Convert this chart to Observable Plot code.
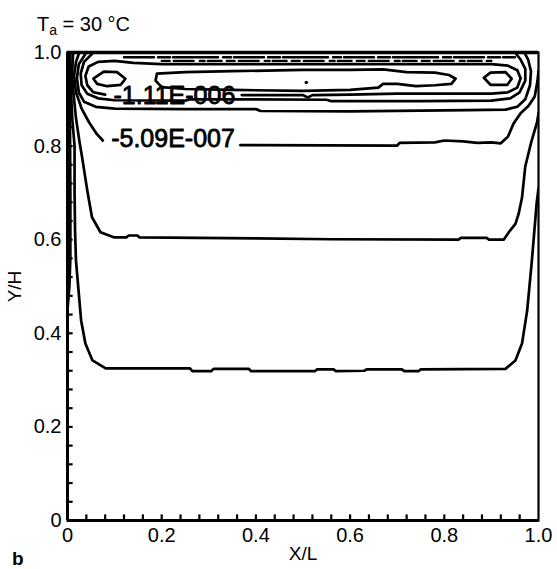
<!DOCTYPE html>
<html><head><meta charset="utf-8">
<script src="https://cdn.jsdelivr.net/npm/d3@7"></script>
<script src="https://cdn.jsdelivr.net/npm/@observablehq/plot@0.6"></script>
<style>
body{margin:0;background:#fff;}
#wrap{position:relative;width:557px;height:569px;font-family:"Liberation Sans",Arial,sans-serif;color:#000;}
#wrap svg{position:absolute;left:0;top:0;}
#title{position:absolute;left:37px;top:14px;font-size:20px;line-height:1;white-space:nowrap;}
#title sub{font-size:14px;vertical-align:-4px;line-height:0;}
#panel{position:absolute;left:12px;top:549px;font-size:19px;font-weight:bold;line-height:1;}
</style></head><body>
<div id="wrap"><div id="title">T<sub>a</sub> = 30 °C</div><div id="panel">b</div></div>
<script>
// Axis ticks
const majorTicks = [0, 0.2, 0.4, 0.6, 0.8, 1.0];
const minorTicks = [0.04,0.08,0.12,0.16,0.2,0.24,0.28,0.32,0.36,0.4,0.44,0.48,0.52,0.56,0.6,0.64,0.68,0.72,0.76,0.8,0.84,0.88,0.92,0.96];

// Contour lines, [X/L, Y/H]
const contour0 = [[0.004,1.0],[0.005,0.9],[0.006,0.7],[0.006,0.56],[0.004,0.5],[0.0,0.45]];
const contour1 = [[0.006,1.0],[0.007,0.93],[0.01,0.86],[0.015,0.8],[0.015,0.7],[0.016,0.62],[0.018,0.556],[0.024,0.485],[0.029,0.427],[0.038,0.378],[0.053,0.342],[0.081,0.325],[0.26,0.325],[0.265,0.319],[0.305,0.319],[0.31,0.324],[0.385,0.324],[0.39,0.319],[0.525,0.319],[0.53,0.323],[0.565,0.323],[0.57,0.319],[0.63,0.32],[0.635,0.323],[0.71,0.323],[0.715,0.319],[0.745,0.319],[0.75,0.323],[0.93,0.324],[0.951,0.342],[0.965,0.378],[0.976,0.449],[0.986,0.556],[0.996,0.677],[1.0,0.71]];
const contour2 = [[0.012,1.0],[0.01,0.96],[0.012,0.92],[0.018,0.86],[0.025,0.812],[0.031,0.776],[0.042,0.705],[0.052,0.648],[0.07,0.616],[0.098,0.605],[0.125,0.605],[0.13,0.609],[0.148,0.609],[0.153,0.605],[0.4,0.603],[0.56,0.601],[0.83,0.6],[0.835,0.604],[0.89,0.604],[0.895,0.6],[0.926,0.6],[0.94,0.62],[0.951,0.634],[0.958,0.656],[0.965,0.69],[0.972,0.757],[0.985,0.81],[0.997,0.851],[1.0,0.87]];
const contour3a = [[0.025,1.0],[0.018,0.98],[0.014,0.95],[0.018,0.915],[0.03,0.88],[0.045,0.852],[0.062,0.826],[0.075,0.812]];
const contour3b = [[0.367,0.802],[0.70,0.801],[0.705,0.807],[0.78,0.808],[0.8,0.812],[0.84,0.81],[0.87,0.807],[0.9,0.808],[0.92,0.806],[0.935,0.82],[0.947,0.848],[0.962,0.87],[0.979,0.886],[0.992,0.906],[0.998,0.94],[1.0,0.96]];
const contour6 = [[0.04,1.0],[0.024,0.975],[0.02,0.945],[0.024,0.915],[0.035,0.895],[0.06,0.884],[0.1,0.88],[0.25,0.879],[0.4,0.879],[0.41,0.875],[0.6,0.874],[0.75,0.876],[0.85,0.877],[0.93,0.878],[0.955,0.884],[0.972,0.9],[0.982,0.93],[0.984,0.96],[0.978,0.985],[0.97,1.0]];
const contour5 = [[0.055,1.0],[0.035,0.98],[0.028,0.955],[0.03,0.93],[0.042,0.912],[0.065,0.902],[0.1,0.898],[0.25,0.897],[0.26,0.9],[0.4,0.9],[0.55,0.899],[0.56,0.896],[0.75,0.896],[0.9,0.897],[0.94,0.902],[0.96,0.915],[0.972,0.94],[0.972,0.965],[0.962,0.985],[0.95,1.0]];
const contour4a = [[0.08,0.91],[0.055,0.915],[0.042,0.93],[0.038,0.95],[0.045,0.97],[0.065,0.98],[0.1,0.982],[0.14,0.978],[0.2,0.975],[0.4,0.975],[0.6,0.975],[0.8,0.975],[0.9,0.975],[0.935,0.972],[0.955,0.962],[0.962,0.945],[0.955,0.925],[0.935,0.915],[0.9,0.912],[0.8,0.912],[0.7,0.912],[0.6,0.91],[0.52,0.909],[0.51,0.904],[0.5,0.909],[0.37,0.909]];
const loopM = [[0.19,0.955],[0.25,0.958],[0.35,0.96],[0.5,0.963],[0.6,0.963],[0.67,0.964],[0.72,0.958],[0.78,0.957],[0.81,0.952],[0.824,0.944],[0.815,0.933],[0.78,0.93],[0.74,0.928],[0.7,0.933],[0.67,0.933],[0.66,0.925],[0.6,0.92],[0.5,0.918],[0.35,0.92],[0.25,0.922],[0.2,0.926],[0.187,0.94],[0.19,0.955]];
const eyeLeft = [[0.055,0.944],[0.077,0.959],[0.105,0.958],[0.123,0.944],[0.113,0.931],[0.084,0.928],[0.063,0.933],[0.055,0.944]];
const eyeRight = [[0.884,0.946],[0.898,0.957],[0.93,0.958],[0.943,0.944],[0.934,0.931],[0.898,0.931],[0.884,0.946]];
const lidRow1 = [[0.12,0.99],[0.95,0.99]];
const lidRow2 = [[0.2,0.982],[0.9,0.982]];
const centerDot = [[0.507,0.936]];

// Contour labels
const labelText = ["-1.11E-006", "-5.09E-007"];
const labelX = [0.227, 0.224];
const labelY = [0.906, 0.815];

const named = {contour0, contour1, contour2, contour3a, contour3b, contour6, contour5, contour4a, loopM, eyeLeft, eyeRight};
const rows = [];
for (const [id, pts] of Object.entries(named)) for (const [x, y] of pts) rows.push({id, x, y});
const toRows = (pts) => pts.map(([x, y]) => ({x, y}));
const labels = labelText.map((t, i) => ({text: t, x: labelX[i], y: labelY[i]}));
const fmt = d => d === 0 ? "0" : d.toFixed(1);

const chart = Plot.plot({
  width: 557, height: 569,
  marginLeft: 67, marginRight: 19, marginTop: 52, marginBottom: 49,
  x: {domain: [0, 1], label: null},
  y: {domain: [0, 1], label: null},
  style: {fontFamily: "'Liberation Sans', Arial, sans-serif", fontSize: "20px", color: "black", background: "white"},
  marks: [
    Plot.line(rows, {x: "x", y: "y", z: "id", stroke: "black", strokeWidth: 2.7, strokeLinejoin: "round", strokeLinecap: "round", clip: true}),
    Plot.line(toRows(lidRow1), {x: "x", y: "y", stroke: "black", strokeWidth: 2.5, strokeDasharray: "30,4,12,3,45,5,8,3", clip: true}),
    Plot.line(toRows(lidRow2), {x: "x", y: "y", stroke: "black", strokeWidth: 2.3, strokeDasharray: "8,4,20,6,5,3,14,5", clip: true}),
    Plot.dot(toRows(centerDot), {x: "x", y: "y", r: 1.8, fill: "black", stroke: null}),
    Plot.text(labels, {x: "x", y: "y", text: "text", fontSize: 25, textAnchor: "middle", lineAnchor: "middle", fill: "black", stroke: "black", strokeWidth: 0.8}),
    Plot.ruleX(minorTicks, {x: d => d, y1: 0, y2: 0.012, stroke: "black", strokeWidth: 2.2}),
    Plot.ruleY(minorTicks, {y: d => d, x1: 0, x2: 0.012, stroke: "black", strokeWidth: 2.2}),
    Plot.frame({stroke: "black", strokeWidth: 2.2}),
    Plot.ruleX([0], {stroke: "black", strokeWidth: 3}),
    Plot.ruleY([0], {stroke: "black", strokeWidth: 3}),
    Plot.ruleY([1], {stroke: "black", strokeWidth: 3.5}),
    Plot.axisX(majorTicks, {anchor: "bottom", tickSize: 0, tickPadding: 7, tickFormat: fmt, label: null}),
    Plot.axisY(majorTicks, {anchor: "left", tickSize: 0, tickPadding: 6, tickFormat: fmt, label: null}),
    Plot.text(["X/L"], {frameAnchor: "bottom", dy: 33, fontSize: 19, lineAnchor: "middle", fill: "black"}),
    Plot.text(["Y/H"], {frameAnchor: "left", dx: -53, rotate: -90, fontSize: 19, lineAnchor: "middle", textAnchor: "middle", fill: "black"})
  ]
});
const wrap = document.getElementById("wrap");
wrap.insertBefore(chart, wrap.firstChild);
</script>
</body></html>
